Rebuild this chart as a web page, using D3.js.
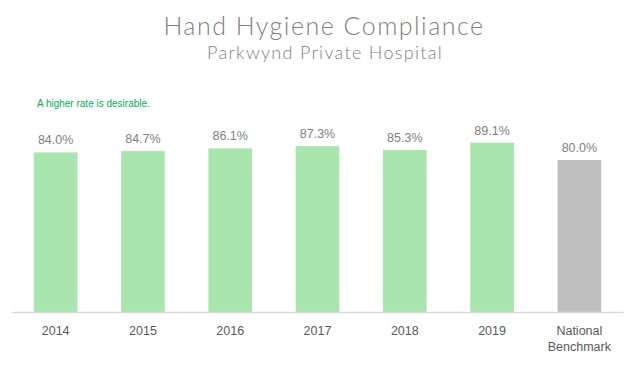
<!DOCTYPE html>
<html>
<head>
<meta charset="utf-8">
<script src="https://cdn.jsdelivr.net/npm/d3@7"></script>
<style>
  body { margin: 0; background: #fff; }
  svg { display: block; }
</style>
</head>
<body>
<div id="chart"></div>
<script>
// chart data
var categories = ["2014", "2015", "2016", "2017", "2018", "2019", "National Benchmark"];
var values = [84.0, 84.7, 86.1, 87.3, 85.3, 89.1, 80.0];
var benchmarkIndex = 6;

var width = 643, height = 374;
var margin = { left: 12, right: 20, top: 122, bottom: 62 };

var svg = d3.select("#chart").append("svg")
    .attr("width", width)
    .attr("height", height);

var x = d3.scaleBand()
    .domain(categories)
    .range([margin.left, width - margin.right])
    .paddingInner(0.5)
    .paddingOuter(0.25);

var y = d3.scaleLinear()
    .domain([0, 100])
    .range([height - margin.bottom, margin.top]);

// titles
svg.append("text")
    .attr("x", 324).attr("y", 35)
    .style("text-anchor", "middle")
    .style("font-family", "'Lato', 'Open Sans', sans-serif")
    .style("font-weight", 300)
    .style("font-size", "25px")
    .style("letter-spacing", "1.5px")
    .style("fill", "#7f7f7f")
    .text("Hand Hygiene Compliance");

svg.append("text")
    .attr("x", 325).attr("y", 59)
    .style("text-anchor", "middle")
    .style("font-family", "'Lato', 'Open Sans', sans-serif")
    .style("font-weight", 300)
    .style("font-size", "18px")
    .style("letter-spacing", "1.3px")
    .style("fill", "#7f7f7f")
    .text("Parkwynd Private Hospital");

svg.append("text")
    .attr("x", 37).attr("y", 107)
    .style("font-family", "'Liberation Sans', sans-serif")
    .style("font-size", "10px")
    .style("fill", "#00b050")
    .text("A higher rate is desirable.");

// bars
svg.selectAll("rect.bar")
    .data(values)
    .enter().append("rect")
    .attr("class", "bar")
    .attr("x", function(d, i){ return x(categories[i]); })
    .attr("width", x.bandwidth())
    .attr("y", function(d){ return y(d); })
    .attr("height", function(d){ return y(0) - y(d); })
    .attr("fill", function(d, i){ return i == benchmarkIndex ? "#bfbfbf" : "#a9e6ad"; });

// value labels
svg.selectAll("text.val")
    .data(values)
    .enter().append("text")
    .attr("class", "val")
    .attr("x", function(d, i){ return x(categories[i]) + x.bandwidth() / 2; })
    .attr("y", function(d){ return y(d) - 8; })
    .style("text-anchor", "middle")
    .style("font-family", "'Liberation Sans', sans-serif")
    .style("font-size", "12.5px")
    .style("fill", "#808080")
    .text(function(d){ return d.toFixed(1) + "%"; });

// x axis
var xAxis = svg.append("g")
    .attr("transform", "translate(0," + y(0) + ")")
    .call(d3.axisBottom(x).tickSize(0).tickPadding(14));

xAxis.select(".domain").attr("stroke", "#d9d9d9").attr("stroke-width", 1.5);
xAxis.selectAll(".tick text")
    .style("font-family", "'Liberation Sans', sans-serif")
    .style("font-size", "12.5px")
    .style("fill", "#595959")
    .each(function(d){
        var words = d.split(" ");
        if (words.length > 1) {
            var t = d3.select(this).text(null);
            words.forEach(function(w, k){
                t.append("tspan").attr("x", 0).attr("dy", k == 0 ? "0.71em" : "1.25em").text(w);
            });
        }
    });
</script>
</body>
</html>
